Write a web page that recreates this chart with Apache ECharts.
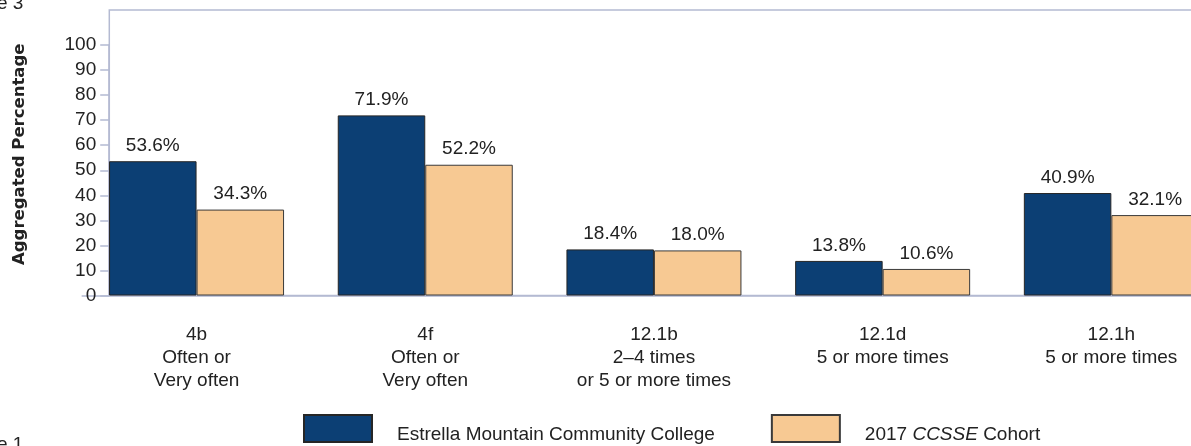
<!DOCTYPE html>
<html>
<head>
<meta charset="utf-8">
<script src="https://cdn.jsdelivr.net/npm/echarts@6/dist/echarts.min.js"></script>
<style>
html,body{margin:0;padding:0;background:#fff;}
#chart{width:1191px;height:446px;}
</style>
</head>
<body>
<div id="chart"></div>
<script>
var categories = ['4b\nOften or\nVery often', '4f\nOften or\nVery often', '12.1b\n2\u20134 times\nor 5 or more times', '12.1d\n5 or more times', '12.1h\n5 or more times'];
var collegeValues = [53.6, 71.9, 18.4, 13.8, 40.9];
var cohortValues = [34.3, 52.2, 18.0, 10.6, 32.1];
var yTicks = [0, 10, 20, 30, 40, 50, 60, 70, 80, 90, 100];
var seriesNames = ['Estrella Mountain Community College', '2017 CCSSE Cohort'];

var FONT = 'Liberation Sans, Arial, sans-serif';
var TXT = '#222';
var AXIS = '#b4bad2';

var chart = echarts.init(document.getElementById('chart'));
var valueLabel = {
  show: true, position: 'top', distance: 6,
  fontFamily: FONT, fontSize: 19, color: TXT,
  formatter: function (p) { return p.value.toFixed(1) + '%'; }
};
chart.setOption({
  animation: false,
  backgroundColor: '#fff',
  graphic: [
    {type: 'text', x: -3, y: -6, style: {text: 'e 3', font: '19px Liberation Sans', fill: TXT}},
    {type: 'text', x: -3, y: 435, style: {text: 'e 1', font: '19px Liberation Sans', fill: TXT}}
  ],
  grid: [
    {left: 82.2, width: 1143.5, top: 45, bottom: 150.5, containLabel: false, outerBoundsMode: 'none'},
    {left: 109.3, width: 1200, top: 10, bottom: 150.5, containLabel: false, outerBoundsMode: 'none',
     show: true, borderColor: AXIS, borderWidth: 1.5, backgroundColor: 'transparent', z: 0}
  ],
  legend: {
    left: 303, top: 414, padding: 0,
    itemWidth: 68, itemHeight: 27, itemGap: 56,
    icon: 'rect',
    data: seriesNames,
    textStyle: {
      fontFamily: FONT, fontSize: 19, color: TXT, padding: [12, 0, 0, 20],
      rich: {i: {fontFamily: FONT, fontSize: 19, fontStyle: 'italic', color: TXT}}
    },
    formatter: function (n) {
      return n === '2017 CCSSE Cohort' ? '2017 {i|CCSSE} Cohort' : n;
    }
  },
  xAxis: [{
    type: 'category', data: categories, position: 'bottom', gridIndex: 0,
    axisLine: {show: true, lineStyle: {color: AXIS, width: 1.5}},
    axisTick: {show: false},
    axisLabel: {fontFamily: FONT, fontSize: 19, color: TXT, lineHeight: 23, margin: 28, interval: 0}
  }, {
    type: 'value', gridIndex: 1, show: false
  }],
  yAxis: [{
    type: 'value', min: yTicks[0], max: yTicks[yTicks.length - 1], interval: 10,
    gridIndex: 0, offset: -27,
    name: 'Aggregated Percentage', nameLocation: 'middle', nameGap: 81,
    nameTextStyle: {fontFamily: 'DejaVu Sans', fontWeight: 'bold', fontSize: 16.5, color: TXT, padding: [0, 0, 0, 32]},
    axisLine: {show: true, lineStyle: {color: AXIS, width: 1.5}},
    axisTick: {show: true, length: 9, lineStyle: {color: AXIS, width: 1.5}},
    axisLabel: {fontFamily: FONT, fontSize: 19, color: TXT, margin: 13},
    splitLine: {show: false}
  }, {
    type: 'value', gridIndex: 1, show: false
  }],
  series: [{
    name: seriesNames[0], type: 'bar', data: collegeValues,
    xAxisIndex: 0, yAxisIndex: 0,
    barWidth: 87.5, barGap: '0%',
    itemStyle: {color: '#0c3f74', borderColor: '#262626', borderWidth: 1},
    label: valueLabel
  }, {
    name: seriesNames[1], type: 'bar', data: cohortValues,
    xAxisIndex: 0, yAxisIndex: 0,
    barWidth: 87.5, barGap: '0%',
    itemStyle: {color: '#f7c993', borderColor: '#3a3a3a', borderWidth: 1},
    label: valueLabel
  }]
});
</script>
</body>
</html>
